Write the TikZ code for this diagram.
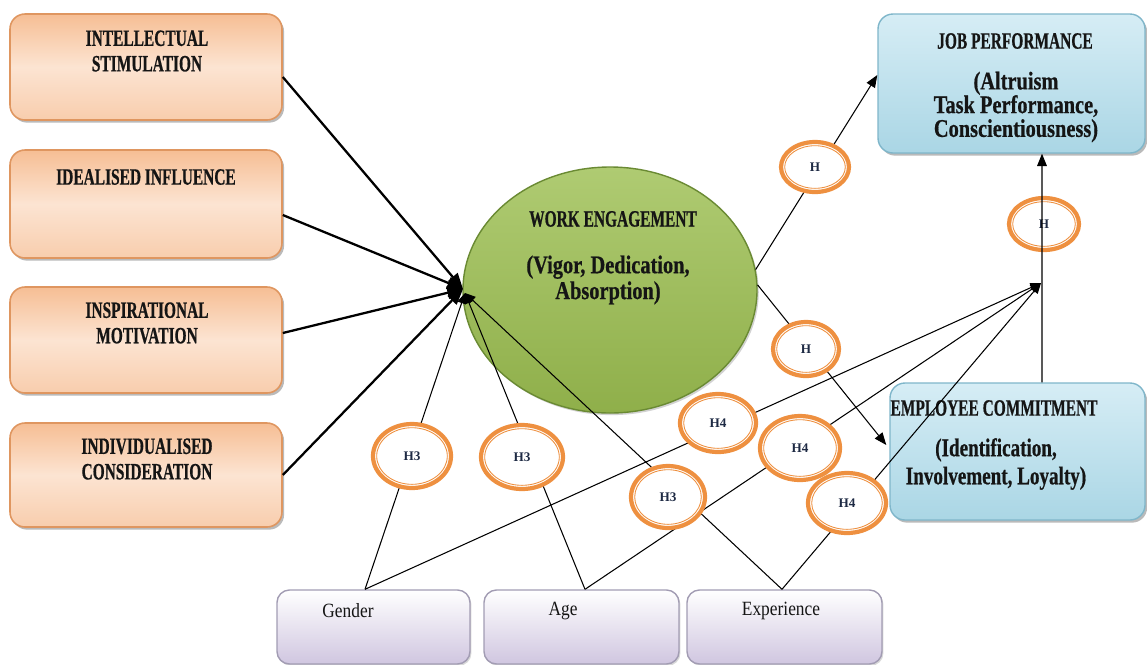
\documentclass[tikz,border=0pt]{standalone}
\usepackage{fontspec}
\setmainfont{Liberation Serif}
\newfontfamily\cf[FakeStretch=0.66, BoldFeatures={FakeBold=0.6}]{Liberation Serif}
\newfontfamily\cfb[FakeStretch=0.8, BoldFeatures={FakeBold=0.6}]{Liberation Serif}
\newfontfamily\cfe[FakeStretch=0.75, BoldFeatures={FakeBold=0.6}]{Liberation Serif}
\newfontfamily\cfr[FakeStretch=0.86]{Liberation Serif}
\usetikzlibrary{shapes.geometric,arrows.meta,shadows,calc}
\definecolor{orborder}{HTML}{DF9660}
\definecolor{ortop}{HTML}{F6BE94}
\definecolor{ormid}{HTML}{FCE4D2}
\definecolor{orbot}{HTML}{F8CDAD}
\definecolor{blborder}{HTML}{7FB6CA}
\definecolor{bltop}{HTML}{D6EDF5}
\definecolor{blbot}{HTML}{AAD6E5}
\definecolor{lvborder}{HTML}{A29CB3}
\definecolor{lvbot}{HTML}{D0C6E0}
\definecolor{grtop}{HTML}{AFCB72}
\definecolor{grbot}{HTML}{8FAF4A}
\definecolor{grborder}{HTML}{6A8A33}
\definecolor{ringc}{HTML}{EE9040}
\definecolor{htext}{HTML}{1E2A44}
\definecolor{txt}{HTML}{151515}
\def\u{0.02cm}
\tikzset{
  orbox/.style={draw=orborder, line width=0.9pt, rounded corners=0.3cm,
    top color=ortop, bottom color=orbot, middle color=ormid,
    drop shadow={shadow xshift=1.2pt, shadow yshift=-1.5pt, fill=black!45, opacity=0.6}},
  blbox/.style={draw=blborder, line width=0.8pt, rounded corners=0.3cm,
    top color=bltop, bottom color=blbot,
    drop shadow={shadow xshift=1.2pt, shadow yshift=-1.5pt, fill=black!45, opacity=0.6}},
  lvbox/.style={draw=lvborder, line width=0.8pt, rounded corners=0.25cm,
    top color=white, bottom color=lvbot,
    drop shadow={shadow xshift=0.8pt, shadow yshift=-1pt, fill=black!30, opacity=0.5}},
  webox/.style={ellipse, draw=grborder, line width=0.8pt, top color=grtop, bottom color=grbot,
    drop shadow={shadow xshift=1pt, shadow yshift=-1.2pt, fill=black!35, opacity=0.5}},
  ttl/.style={align=center, inner sep=0pt, text=txt,
    font=\cf\bfseries\fontsize{13.3}{14.5}\selectfont},
  body/.style={align=center, inner sep=0pt, text=txt,
    font=\cfb\bfseries\fontsize{14.5}{13.5}\selectfont},
  lbl/.style={inner sep=0pt, text=txt, font=\cfr\fontsize{11.5}{13}\selectfont},
  ringnode/.style={ellipse, draw=ringc, line width=2.4pt, fill=white, inner sep=0pt,
    text=htext, font=\bfseries\fontsize{7.5}{8}\selectfont,
    path picture={\draw[ringc, line width=0.5pt]
      let \p1=(path picture bounding box.north east), \p2=(path picture bounding box.center)
      in (\p2) ellipse [x radius=\x1-\x2-2.1pt, y radius=\y1-\y2-2.1pt];}},
  thickarrow/.style={line width=1.3pt, -{Triangle[length=9pt,width=7pt]}},
  thinarrow/.style={line width=0.6pt, -{Triangle[length=7pt,width=5.5pt]}},
  modline/.style={line width=0.6pt, -{Triangle[length=6pt,width=5pt]}}
}
\begin{document}
\begin{tikzpicture}[x=\u, y=-\u]
\useasboundingbox (0,0) rectangle (1147,664);

% left boxes
\node[orbox, minimum width=272*\u, minimum height=106*\u] (b1) at (146,67) {};
\node[orbox, minimum width=272*\u, minimum height=108*\u] (b2) at (146,204) {};
\node[orbox, minimum width=272*\u, minimum height=106*\u] (b3) at (146,340) {};
\node[orbox, minimum width=272*\u, minimum height=104*\u] (b4) at (146,475) {};
\node[ttl] (b1t) at (147,51) {INTELLECTUAL\\STIMULATION};
\node[ttl] (b2t) at (146,177) {IDEALISED INFLUENCE};
\node[ttl] (b3t) at (147,323) {INSPIRATIONAL\\MOTIVATION};
\node[ttl] (b4t) at (147,459) {INDIVIDUALISED\\CONSIDERATION};

% right boxes
\node[blbox, minimum width=267*\u, minimum height=139*\u] (jp) at (1011.5,83.5) {};
\node[ttl] (jpt) at (1015,41) {JOB PERFORMANCE};
\node[body] (jpb) at (1016,107) {(Altruism\\Task Performance,\\Conscientiousness)};
\node[blbox, minimum width=255*\u, minimum height=137*\u] (ec) at (1017.5,451.5) {};
\node[ttl] (ect) at (994,408) {EMPLOYEE COMMITMENT};
\node[body, font=\cfe\bfseries\fontsize{14.5}{16}\selectfont] (ecb) at (996,464) {(Identification,\\Involvement,\ Loyalty)};

% bottom boxes
\node[lvbox, minimum width=193*\u, minimum height=74*\u] (gender) at (373.5,627) {};
\node[lvbox, minimum width=195*\u, minimum height=74*\u] (age) at (581.5,627) {};
\node[lvbox, minimum width=195*\u, minimum height=74*\u] (exp) at (784.5,627) {};
\node[lbl] (gendert) at (348,611) {Gender};
\node[lbl] (aget) at (563,611) {Age};
\node[lbl] (expt) at (781,611) {Experience};

% work engagement
\node[webox, minimum width=294*\u, minimum height=246*\u] (we) at (610,290) {};
\node[ttl] (wet) at (613,219) {WORK ENGAGEMENT};
\node[body, font=\cfb\bfseries\fontsize{14.5}{14.7}\selectfont] (web) at (608,280) {(Vigor, Dedication,\\Absorption)};

% coordinates
\coordinate (conv) at (463,289);
\coordinate (conv2) at (1041,283);
\coordinate (gtop) at ([xshift=-0.17cm]gender.north);
\coordinate (atop) at ([xshift=0.07cm]age.north);
\coordinate (etop) at ([xshift=-0.05cm]exp.north);

% left arrows
\draw[thickarrow] ([yshift=-0.2cm]b1.east) -- (conv);
\draw[thickarrow] ([yshift=-0.22cm]b2.east) -- (conv);
\draw[thickarrow] ([yshift=0.14cm]b3.east) -- (conv);
\draw[thickarrow] (b4.east) -- (conv);

% moderators
\draw[modline] (gtop) -- ([xshift=0.04cm,yshift=-0.08cm]conv);
\draw[modline] (atop) -- ([xshift=0.04cm,yshift=-0.08cm]conv);
\draw[modline] (etop) -- ([xshift=0.04cm,yshift=-0.08cm]conv);
\draw[modline] (gtop) -- (conv2);
\draw[modline] (atop) -- (conv2);
\draw[modline] (etop) -- (conv2);

% outcomes
\draw[thinarrow] (we.8) -- ([yshift=0.17cm]jp.west);
\draw[thinarrow] (we.2) -- ([xshift=-0.06cm,yshift=0.13cm]ec.west);

% rings
\node[ringnode, minimum width=68*\u, minimum height=50*\u] (h1) at (815,167) {H};
\node[ringnode, minimum width=70*\u, minimum height=52*\u] (h2) at (1044,224) {H};
\node[ringnode, minimum width=66*\u, minimum height=54*\u] (h5) at (806,349) {H};
\node[ringnode, minimum width=76*\u, minimum height=58*\u] (h4a) at (718,423) {H4};
\node[ringnode, minimum width=80*\u, minimum height=64*\u] (h4b) at (800,448) {H4};
\node[ringnode, minimum width=78*\u, minimum height=60*\u] (h4c) at (847,503) {H4};
\node[ringnode, minimum width=78*\u, minimum height=64*\u] (h3a) at (412,456) {H3};
\node[ringnode, minimum width=82*\u, minimum height=64*\u] (h3b) at (522,457) {H3};
\node[ringnode, minimum width=74*\u, minimum height=62*\u] (h3c) at (668,497) {H3};

% EC -> JP
\draw[thinarrow] ([xshift=0.49cm]ec.north) -- ([xshift=0.61cm]jp.south);
\end{tikzpicture}
\end{document}
